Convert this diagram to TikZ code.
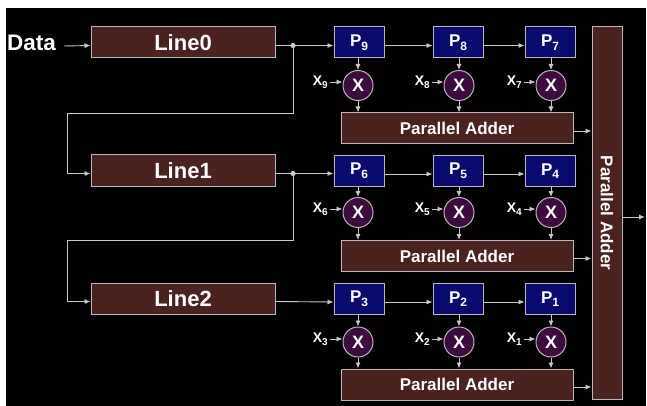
\documentclass[tikz,border=0pt]{standalone}
\usepackage{fontspec}
\setmainfont{Liberation Sans}
\usetikzlibrary{arrows.meta}
\definecolor{brownf}{HTML}{4A221F}
\definecolor{navyf}{HTML}{0A0A6E}
\definecolor{purplef}{HTML}{3C0A3C}
\definecolor{edgec}{HTML}{B8B8B8}
\definecolor{wirec}{HTML}{C8C8C8}
\newcommand{\mysub}[1]{\raisebox{-0.4ex}{\fontsize{10}{10}\selectfont #1}}
\newcommand{\psub}[1]{\raisebox{-0.4ex}{\fontsize{12}{12}\selectfont #1}}
\tikzset{
  linebox/.style={draw=edgec, fill=brownf, line width=1pt, minimum width=184pt, minimum height=31pt, inner sep=0pt, text=white, font=\bfseries\fontsize{22}{22}\selectfont},
  pbox/.style={draw=edgec, fill=navyf, line width=1pt, minimum width=50pt, minimum height=31pt, inner sep=0pt, text=white, font=\bfseries\fontsize{17}{17}\selectfont},
  mult/.style={circle, draw=edgec, fill=purplef, line width=1pt, minimum size=30pt, inner sep=0pt, text=white, font=\bfseries\fontsize{18}{18}\selectfont},
  addbox/.style={draw=edgec, fill=brownf, line width=1pt, minimum width=232pt, minimum height=31pt, inner sep=0pt, text=white, font=\bfseries\fontsize{17}{17}\selectfont},
  bigadd/.style={draw=edgec, fill=brownf, line width=1pt, minimum width=372pt, minimum height=30pt, inner sep=0pt, text=white, font=\bfseries\fontsize{17}{17}\selectfont, rotate=-90},
  xlab/.style={anchor=east, inner sep=0pt, text=white, font=\bfseries\fontsize{14}{14}\selectfont},
  wire/.style={draw=wirec, line width=0.9pt},
  arr/.style={wire, -{Latex[length=6pt,width=5pt]}},
  jdot/.style={fill=wirec}
}
\begin{document}
\begin{tikzpicture}[x=1pt,y=-1pt]
\useasboundingbox (0,0) rectangle (647,406);
\fill[white] (0,0) rectangle (647,406);
\fill[black] (6,8) rectangle (646,406);

% input
\node[inner sep=0pt, text=white, font=\bfseries\fontsize{22.5}{22.5}\selectfont, anchor=west] (data) at (7,43) {Data};
% delay lines
\node[linebox] (L0) at (183,42.5) {Line0};
\node[linebox] (L1) at (183,170.5) {Line1};
\node[linebox] (L2) at (183,298.5) {Line2};

% coefficient boxes
\node[pbox] (P9) at (359,42.5) {P\psub{9}};
\node[pbox] (P8) at (458,42.5) {P\psub{8}};
\node[pbox] (P7) at (550,42.5) {P\psub{7}};
\node[pbox] (P6) at (359,171) {P\psub{6}};
\node[pbox] (P5) at (458,171) {P\psub{5}};
\node[pbox] (P4) at (550,171) {P\psub{4}};
\node[pbox] (P3) at (359,299) {P\psub{3}};
\node[pbox] (P2) at (458,299) {P\psub{2}};
\node[pbox] (P1) at (550,299) {P\psub{1}};

% multipliers
\node[mult] (M9) at (358,85.5) {X};
\node[mult] (M8) at (459,85.5) {X};
\node[mult] (M7) at (551,85.5) {X};
\node[mult] (M6) at (358,212.5) {X};
\node[mult] (M5) at (459,212.5) {X};
\node[mult] (M4) at (551,212.5) {X};
\node[mult] (M3) at (358,342) {X};
\node[mult] (M2) at (459,342) {X};
\node[mult] (M1) at (551,342) {X};

% parallel adders
\node[addbox] (A1) at (457,128.5) {Parallel Adder};
\node[addbox] (A2) at (457,256) {Parallel Adder};
\node[addbox] (A3) at (457,384.5) {Parallel Adder};
\node[bigadd] (AB) at (607,213) {Parallel Adder};

% x labels
\node[xlab] (X9) at (328,82) {X\mysub{9}};
\node[xlab] (X8) at (430,82) {X\mysub{8}};
\node[xlab] (X7) at (522,82) {X\mysub{7}};
\node[xlab] (X6) at (328,209) {X\mysub{6}};
\node[xlab] (X5) at (430,209) {X\mysub{5}};
\node[xlab] (X4) at (522,209) {X\mysub{4}};
\node[xlab] (X3) at (328,339) {X\mysub{3}};
\node[xlab] (X2) at (430,339) {X\mysub{2}};
\node[xlab] (X1) at (522,339) {X\mysub{1}};

% coordinates
\coordinate (j0) at (293,45.5);
\coordinate (j1) at (293,173.5);
\coordinate (c0) at (67,113);
\coordinate (c1) at (67,240);
\coordinate (out) at (645,217);

% data in
\draw[arr] ([xshift=8pt,yshift=-3pt]data.east) -- ([yshift=-3pt]L0.west);

% line0 taps
\draw[wire] ([yshift=-3pt]L0.east) -- (j0);
\draw[arr] (j0) -- ([yshift=-3pt]P9.west);
\draw[arr] (j0) -- (j0 |- c0) -- (c0) |- ([yshift=-3pt]L1.west);
\fill[jdot] (j0) circle (2.6pt);

% line1 taps
\draw[wire] ([yshift=-3pt]L1.east) -- (j1);
\draw[arr] (j1) -- ([yshift=-2.5pt]P6.west);
\draw[arr] (j1) -- (j1 |- c1) -- (c1) |- ([yshift=-3pt]L2.west);
\fill[jdot] (j1) circle (2.6pt);

% line2
\draw[arr] ([yshift=-3pt]L2.east) -- ([yshift=-3pt]P3.west);

% P chains
\foreach \a/\b in {P9/P8,P8/P7,P6/P5,P5/P4,P3/P2,P2/P1}
  \draw[arr] ([yshift=-3pt]\a.east) -- ([yshift=-3pt]\b.west);

% P to multipliers
\foreach \p/\m in {P9/M9,P8/M8,P7/M7,P6/M6,P5/M5,P4/M4,P3/M3,P2/M2,P1/M1}
  \draw[arr] (\p.south -| \m) -- (\m.north);

% multipliers to adders
\foreach \m/\a in {M9/A1,M8/A1,M7/A1,M6/A2,M5/A2,M4/A2,M3/A3,M2/A3,M1/A3}
  \draw[arr] (\m.south) -- (\m.south |- \a.north);

% x labels to multipliers
\foreach \x/\m in {X9/M9,X8/M8,X7/M7,X6/M6,X5/M5,X4/M4,X3/M3,X2/M2,X1/M1}
  \draw[arr] ([xshift=2pt]\x.east) -- (\x.east -| \m.west);

% adders to big adder (rotated node: south anchor is on the west side)
\foreach \a in {A1,A2,A3}
  \draw[arr] ([yshift=-2.5pt]\a.east) -- ([yshift=-2.5pt]\a.east -| AB.south);

% output
\draw[arr] (AB.north |- out) -- (out);
\end{tikzpicture}
\end{document}
